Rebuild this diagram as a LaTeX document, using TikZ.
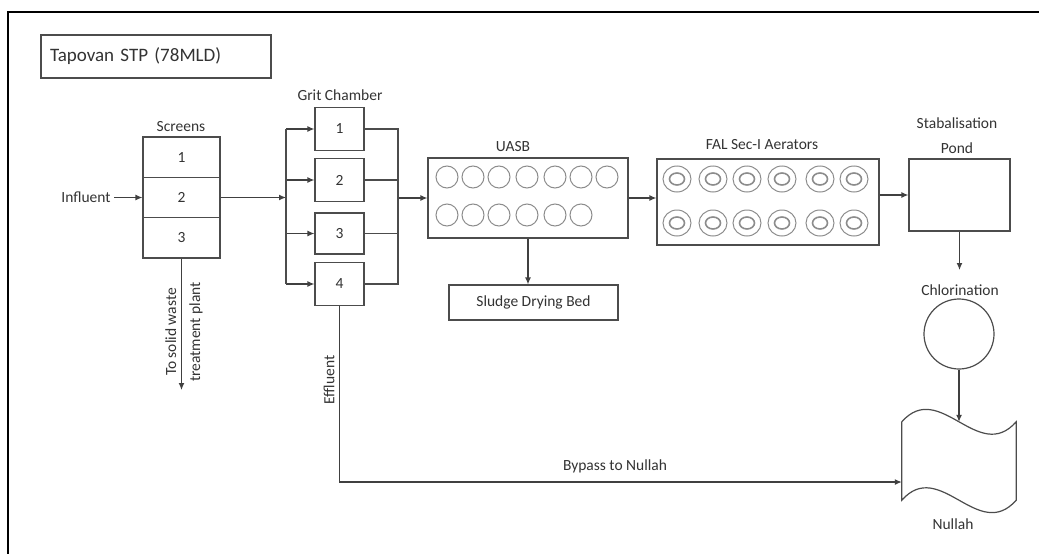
\documentclass[tikz,border=0pt]{standalone}
\usepackage{fontspec}
\setmainfont{Carlito}
\usetikzlibrary{arrows.meta}

\begin{document}
\begin{tikzpicture}[
  x=1pt,y=-1pt,
  every node/.style={text=black!80,font=\fontsize{15.5}{18}\selectfont},
  unit/.style={draw=black!70,line width=1.2pt,minimum width=49pt,minimum height=43pt,inner sep=0pt},
  tank/.style={draw=black!70,line width=1.2pt,inner sep=0pt},
  flow/.style={-{Latex[length=7pt,width=6pt]},color=black!75,line width=1.2pt},
  pipe/.style={draw=black!70,line width=1.2pt},
  disc/.style={draw=black!45,line width=1pt}
]
  \useasboundingbox (0,0) rectangle (1039,554);
  \draw[line width=2.5pt] (8,554) -- (8,12) -- (1039,12);

  \node[draw=black!70,line width=1.2pt,minimum width=230pt,minimum height=43pt,
    text width=212pt,inner xsep=9pt,align=left,font=\fontsize{19}{22}\selectfont]
    (title) at (156,56.5) {Tapovan STP (78MLD)};

  % screens
  \node (influent) at (86,197.5) {Influent};
  \node[unit,minimum width=77pt,minimum height=40.3pt] (screen1) at (181.5,157.2) {1};
  \node[unit,minimum width=77pt,minimum height=40.3pt] (screen2) at (181.5,197.5) {2};
  \node[unit,minimum width=77pt,minimum height=40.3pt] (screen3) at (181.5,237.8) {3};
  \node (screenslbl) at (181,127) {Screens};
  \coordinate (solidwaste) at (181.5,390);
  \node[rotate=90,align=center,font=\fontsize{15.5}{24}\selectfont] (solidlbl) at (184,332)
    {To solid waste\\treatment plant};

  % grit chamber
  \node[unit] (grit1) at (339.5,129) {1};
  \node[unit] (grit2) at (339.5,180) {2};
  \node[unit,minimum height=41pt] (grit3) at (339.5,233.5) {3};
  \node[unit] (grit4) at (339.5,284) {4};
  \node (gritlbl) at (340,95) {Grit Chamber};
  \coordinate (split) at (286,197.5);
  \coordinate (merge) at (398,202);

  % UASB and sludge
  \node[tank,minimum width=200pt,minimum height=80pt] (uasb) at (528,198) {};
  \node (uasblbl) at (513,147) {UASB};
  \node[tank,minimum width=169pt,minimum height=35pt] (sludge) at (533.5,302.5) {Sludge Drying Bed};
  \foreach \cx in {447,473,499,527,555,581,607}
    \draw[disc] (\cx,177) circle[radius=11pt];
  \foreach \cx in {447,473,499,527,555,581}
    \draw[disc] (\cx,215) circle[radius=11pt];

  % aerators
  \node[tank,minimum width=222pt,minimum height=86pt] (fal) at (768,202) {};
  \node (fallbl) at (762,145) {FAL Sec-I Aerators};
  \foreach \cx in {677,713,747,782,820,854}
    \foreach \cy in {179,223} {
      \draw[disc] (\cx,\cy) ellipse[x radius=14pt,y radius=13pt];
      \draw[disc,line width=1.6pt] (\cx,\cy) ellipse[x radius=7.5pt,y radius=6pt];
    }

  % pond, chlorination, nullah
  \node[tank,minimum width=101pt,minimum height=72pt] (pond) at (959.5,195) {};
  \node[align=center,font=\fontsize{15.5}{25}\selectfont] (pondlbl) at (957,135.5) {Stabalisation\\Pond};
  \node (chlorlbl) at (960,290) {Chlorination};
  \coordinate (chlorin) at (959.5,270);
  \node[tank,circle,minimum size=70pt] (chlor) at (959,334) {};
  \node[minimum width=114pt,minimum height=78pt,inner sep=0pt] (nullah) at (959,461) {};
  \draw[pipe] (nullah.north west) .. controls +(38,-43) and +(-38,43) .. (nullah.north east)
    -- (nullah.south east) .. controls +(-38,43) and +(38,-43) .. (nullah.south west) -- cycle;
  \node (nullahlbl) at (953,524) {Nullah};

  % flows
  \path[flow]
    (influent) edge (screen2)
    (screen2.east) edge (split)
    (split |- grit1) edge (grit1)
    (split |- grit2) edge (grit2)
    (split |- grit3) edge (grit3)
    (split |- grit4) edge (grit4)
    (uasb.west -| merge) edge (uasb.west)
    (uasb.south) edge (uasb.south |- sludge.north)
    (uasb.east) edge (uasb.east -| fal.west)
    (pond.west -| fal.east) edge (pond.west)
    (pond.south) edge (chlorin)
    (chlor) edge (nullah.north)
    (screen3) edge (solidwaste);
  \draw[pipe] (split |- grit1) -- (split |- grit4);
  \draw[pipe] (grit1.east) -- (grit1.east -| merge) -- (grit4.east -| merge) -- (grit4.east);
  \draw[pipe] (grit2.east) -- (grit2.east -| merge);
  \draw[pipe] (grit3.east) -- (grit3.east -| merge);
  \node[rotate=90] (effluentlbl) at (329,380) {Effluent};
  \draw[flow] (grit4.south) |- node[pos=0.745,above=5pt] {Bypass to Nullah} ([yshift=-21pt]nullah.west);
\end{tikzpicture}
\end{document}
